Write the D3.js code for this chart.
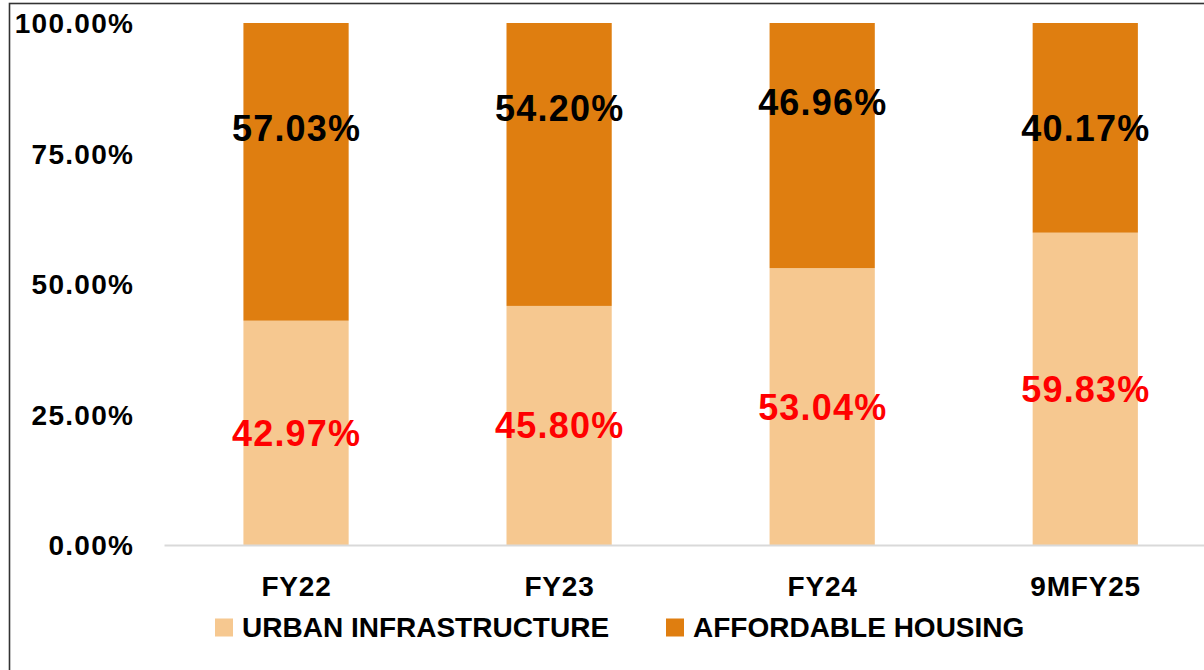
<!DOCTYPE html>
<html>
<head>
<meta charset="utf-8">
<script src="https://cdn.jsdelivr.net/npm/d3@7"></script>
<style>
  html, body { margin: 0; padding: 0; background: #fff; }
  svg { display: block; font-family: "Liberation Sans", Arial, sans-serif; }
</style>
</head>
<body>
<svg id="chart" width="1204" height="670"></svg>
<script>
// ---- data ----
const categories = ["FY22", "FY23", "FY24", "9MFY25"];
const urbanInfrastructure = [42.97, 45.80, 53.04, 59.83];
const affordableHousing = [57.03, 54.20, 46.96, 40.17];
const affordableLabelAt = [79.9, 83.8, 84.9, 79.9]; // label placement (value units)
const yTicks = [0, 25, 50, 75, 100];
const seriesNames = ["URBAN INFRASTRUCTURE", "AFFORDABLE HOUSING"];

// ---- styles ----
const colUrban = "#F6C890";
const colAfford = "#DF7E10";

const svg = d3.select("#chart");

// frame border
svg.append("rect")
  .attr("x", 9.5).attr("y", 3.5)
  .attr("width", 1300).attr("height", 800)
  .attr("fill", "none").attr("stroke", "#333").attr("stroke-width", 1.6);

const x = d3.scaleBand()
  .domain(categories)
  .range([164.5, 1216.8])
  .paddingInner(0.6)
  .paddingOuter(0.3);

const y = d3.scaleLinear().domain([0, 100]).range([545, 23]);

// y tick labels
const tickLS = 1.3;
svg.append("g").selectAll("text")
  .data(yTicks)
  .join("text")
  .attr("x", 133 + tickLS)
  .attr("y", d => y(d) + 10)
  .attr("text-anchor", "end")
  .attr("font-size", 28)
  .attr("font-weight", "bold")
  .attr("letter-spacing", tickLS)
  .attr("fill", "#000")
  .text(d => d.toFixed(2) + "%");

// bars
const g = svg.append("g");
g.selectAll("rect.urban")
  .data(categories)
  .join("rect")
  .attr("class", "urban")
  .attr("x", d => x(d))
  .attr("width", x.bandwidth())
  .attr("y", (d, i) => y(urbanInfrastructure[i]))
  .attr("height", (d, i) => y(0) - y(urbanInfrastructure[i]))
  .attr("fill", colUrban);

g.selectAll("rect.afford")
  .data(categories)
  .join("rect")
  .attr("class", "afford")
  .attr("x", d => x(d))
  .attr("width", x.bandwidth())
  .attr("y", (d, i) => y(urbanInfrastructure[i] + affordableHousing[i]))
  .attr("height", (d, i) => y(urbanInfrastructure[i]) - y(urbanInfrastructure[i] + affordableHousing[i]))
  .attr("fill", colAfford);

// axis baseline
svg.append("line")
  .attr("x1", 164.5).attr("x2", 1204)
  .attr("y1", y(0) + 0.5).attr("y2", y(0) + 0.5)
  .attr("stroke", "#d9d9d9").attr("stroke-width", 2);

// value labels
const valLS = 1.2;
g.selectAll("text.ulab")
  .data(categories)
  .join("text")
  .attr("class", "ulab")
  .attr("x", d => x(d) + x.bandwidth() / 2 + valLS / 2)
  .attr("y", (d, i) => y(urbanInfrastructure[i] / 2) + 13)
  .attr("text-anchor", "middle")
  .attr("font-size", 36)
  .attr("font-weight", "bold")
  .attr("letter-spacing", valLS)
  .attr("fill", "#FF0000")
  .text((d, i) => urbanInfrastructure[i].toFixed(2) + "%");

g.selectAll("text.alab")
  .data(categories)
  .join("text")
  .attr("class", "alab")
  .attr("x", d => x(d) + x.bandwidth() / 2 + valLS / 2)
  .attr("y", (d, i) => y(affordableLabelAt[i]) + 13)
  .attr("text-anchor", "middle")
  .attr("font-size", 36)
  .attr("font-weight", "bold")
  .attr("letter-spacing", valLS)
  .attr("fill", "#000")
  .text((d, i) => affordableHousing[i].toFixed(2) + "%");

// category labels
const catLS = 0.8;
svg.append("g").selectAll("text")
  .data(categories)
  .join("text")
  .attr("x", d => x(d) + x.bandwidth() / 2 + catLS / 2)
  .attr("y", 596)
  .attr("text-anchor", "middle")
  .attr("font-size", 28)
  .attr("font-weight", "bold")
  .attr("letter-spacing", catLS)
  .attr("fill", "#000")
  .text(d => d);

// legend
const legendX = [215, 666];
const legendColors = [colUrban, colAfford];
const lg = svg.append("g").selectAll("g")
  .data(seriesNames)
  .join("g")
  .attr("transform", (d, i) => `translate(${legendX[i]},618.5)`);
lg.append("rect")
  .attr("width", 18).attr("height", 18)
  .attr("fill", (d, i) => legendColors[i]);
lg.append("text")
  .attr("x", 27)
  .attr("y", 18)
  .attr("font-size", 28)
  .attr("font-weight", "bold")
  .attr("fill", "#000")
  .text(d => d);
</script>
</body>
</html>
